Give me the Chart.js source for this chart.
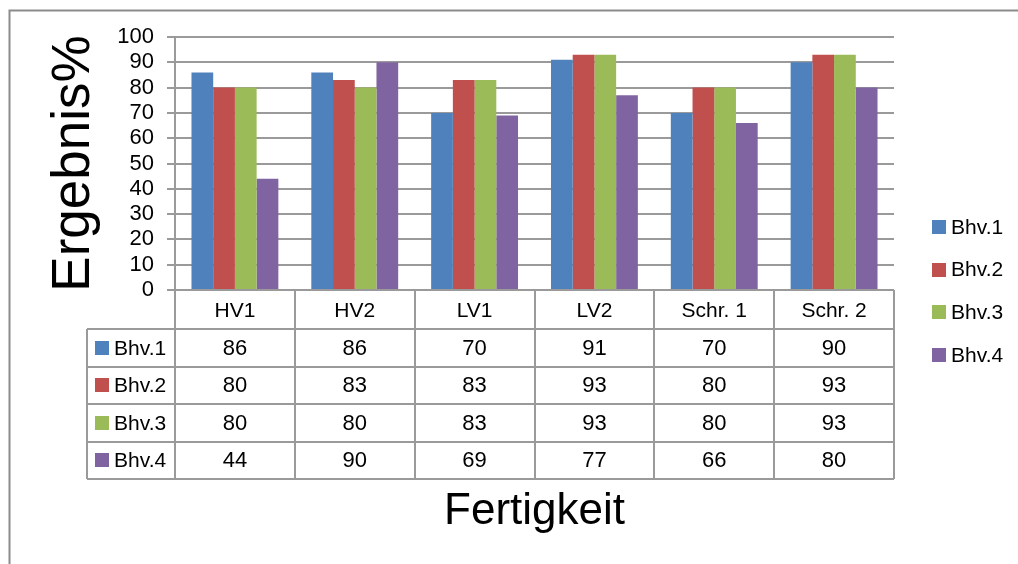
<!DOCTYPE html>
<html>
<head>
<meta charset="utf-8">
<script src="https://cdn.jsdelivr.net/npm/chart.js@4/dist/chart.umd.min.js"></script>
<style>
  html, body { margin: 0; padding: 0; background: #fff; }
  #wrap { width: 1018px; height: 564px; }
</style>
</head>
<body>
<div id="wrap"><canvas id="c" width="1018" height="564"></canvas></div>
<script>
// Skills on the x axis, one series per Bhv group
const categories = ['HV1', 'HV2', 'LV1', 'LV2', 'Schr. 1', 'Schr. 2'];
const seriesNames = ['Bhv.1', 'Bhv.2', 'Bhv.3', 'Bhv.4'];
const bhv1 = [86, 86, 70, 91, 70, 90];
const bhv2 = [80, 83, 83, 93, 80, 93];
const bhv3 = [80, 80, 83, 93, 80, 93];
const bhv4 = [44, 90, 69, 77, 66, 80];
const seriesColors = ['#4F81BD', '#C0504D', '#9BBB59', '#8064A2'];
const yAxisTitle = 'Ergebnis%';
const xAxisTitle = 'Fertigkeit';

const FONT = '"Liberation Sans", Arial, sans-serif';
const LINE = '#9a9a9a';

// Data table under the plot, legend on the right and the frame line
const tablePlugin = {
  id: 'dataTable',
  afterDraw(chart) {
    const ctx = chart.ctx;
    const area = chart.chartArea;
    const xs = chart.scales.x;
    const datasets = chart.data.datasets;
    const n = chart.data.labels.length;

    const headerBottom = area.bottom + 39;
    const rowH = 37.5;
    const tableBottom = headerBottom + rowH * datasets.length;
    const tableLeft = 87;

    // column boundaries from the category scale
    const bounds = [area.left];
    for (let i = 0; i < n - 1; i++) {
      bounds.push((xs.getPixelForValue(i) + xs.getPixelForValue(i + 1)) / 2);
    }
    bounds.push(area.right);

    ctx.save();
    ctx.strokeStyle = LINE;
    ctx.lineWidth = 2;
    ctx.beginPath();
    // vertical lines through header and body
    bounds.forEach(b => {
      const x = Math.round(b);
      ctx.moveTo(x, area.bottom);
      ctx.lineTo(x, tableBottom);
    });
    ctx.moveTo(tableLeft, headerBottom);
    ctx.lineTo(tableLeft, tableBottom);
    // horizontal row lines
    for (let r = 0; r <= datasets.length; r++) {
      const y = Math.round(headerBottom + r * rowH);
      ctx.moveTo(tableLeft, y);
      ctx.lineTo(area.right, y);
    }
    ctx.stroke();

    // cell values and row keys
    ctx.textBaseline = 'middle';
    datasets.forEach((ds, r) => {
      const cy = headerBottom + r * rowH + rowH / 2;
      ctx.fillStyle = ds.backgroundColor;
      ctx.fillRect(95, Math.round(cy - 7), 14, 14);
      ctx.fillStyle = '#000';
      ctx.font = '21px ' + FONT;
      ctx.textAlign = 'left';
      ctx.fillText(ds.label, 114, cy + 1);
      ctx.font = '22px ' + FONT;
      ctx.textAlign = 'center';
      ds.data.forEach((v, i) => {
        ctx.fillText(String(v), xs.getPixelForValue(i), cy + 1);
      });
    });

    // legend
    ctx.font = '21px ' + FONT;
    ctx.textAlign = 'left';
    datasets.forEach((ds, r) => {
      const cy = 227 + r * 42.7;
      ctx.fillStyle = ds.backgroundColor;
      ctx.fillRect(932, Math.round(cy - 7), 14, 14);
      ctx.fillStyle = '#000';
      ctx.fillText(ds.label, 951, cy + 1);
    });

    // outer frame
    ctx.strokeStyle = '#8c8c8c';
    ctx.lineWidth = 2;
    ctx.beginPath();
    ctx.moveTo(9.5, chart.height);
    ctx.lineTo(9.5, 10.5);
    ctx.lineTo(chart.width, 10.5);
    ctx.stroke();
    ctx.restore();
  }
};

const seriesValues = [bhv1, bhv2, bhv3, bhv4];

new Chart(document.getElementById('c'), {
  type: 'bar',
  data: {
    labels: categories,
    datasets: seriesNames.map((name, i) => ({
      label: name,
      data: seriesValues[i],
      backgroundColor: seriesColors[i],
      borderWidth: 0,
      categoryPercentage: 0.725,
      barPercentage: 1.0
    }))
  },
  options: {
    responsive: false,
    animation: false,
    devicePixelRatio: 1,
    layout: { padding: { left: 30, right: 124, top: 37, bottom: 0 } },
    plugins: {
      legend: { display: false },
      tooltip: { enabled: false }
    },
    scales: {
      x: {
        grid: { display: false, drawTicks: false },
        border: { display: false },
        ticks: { color: '#000', font: { family: FONT, size: 21 }, padding: 9, maxRotation: 0, autoSkip: false },
        title: { display: true, text: xAxisTitle, color: '#000', font: { family: FONT, size: 44 }, padding: { top: 0, bottom: 26 } },
        afterFit(scale) { scale.height = 274; }
      },
      y: {
        min: 0,
        max: 100,
        ticks: { stepSize: 10, autoSkip: false, color: '#000', font: { family: FONT, size: 22 }, padding: 13 },
        grid: { color: LINE, lineWidth: 2, tickLength: 8, drawTicks: true },
        border: { display: true, color: LINE, width: 2 },
        title: { display: true, text: yAxisTitle, color: '#000', font: { family: FONT, size: 53 }, padding: { top: 13, bottom: 0 } },
        afterFit(scale) { scale.width = 145; }
      }
    }
  },
  plugins: [tablePlugin]
});
</script>
</body>
</html>
